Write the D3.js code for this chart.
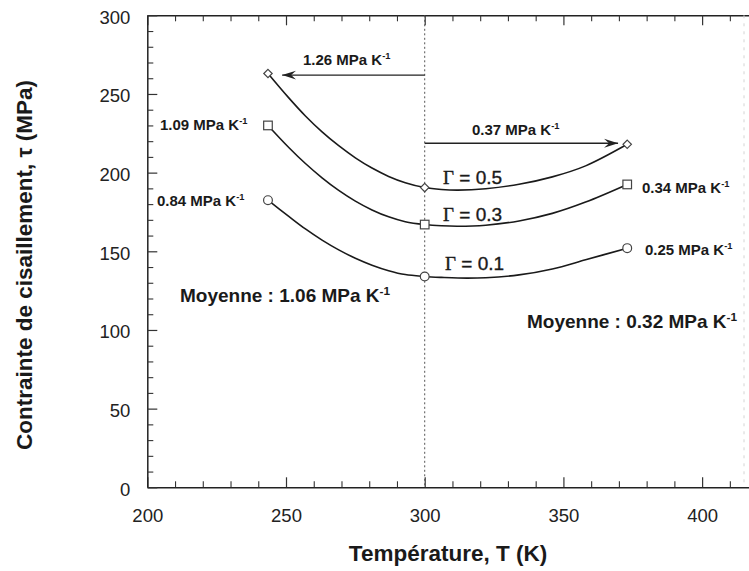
<!DOCTYPE html>
<html><head><meta charset="utf-8">
<script src="https://cdn.jsdelivr.net/npm/d3@7"></script>
<style>body{margin:0;background:#fff}svg{display:block}</style>
</head><body>
<script>
// ---- data ----
const temps = [243.5, 300, 373];
const tau05 = [263, 190.5, 218];
const tau03 = [230, 167, 192.5];
const tau01 = [182.5, 134, 152];
// curve traces
const traceT  = [243.5, 251, 257, 263, 269, 275, 281, 287, 293, 300, 306, 312, 322, 334, 346, 358, 373];
const trace05 = [263, 247.5, 236.0, 225.9, 217.1, 209.4, 202.9, 197.6, 193.6, 190.5, 189.3, 188.9, 189.8, 192.6, 197.3, 204.3, 218];
const trace03 = [230, 216.0, 205.8, 196.7, 188.7, 181.9, 176.3, 171.9, 168.8, 167.0, 166.2, 165.9, 166.6, 169.3, 174.1, 181.3, 192.5];
const trace01 = [182.5, 172.2, 164.2, 157.1, 150.9, 145.6, 141.2, 137.7, 135.2, 134.0, 133.4, 133.0, 133.2, 135.0, 138.8, 144.6, 152];
const seriesNames = ["Γ = 0.5", "Γ = 0.3", "Γ = 0.1"];
const xTicks = [200, 250, 300, 350, 400];
const yTicks = [0, 50, 100, 150, 200, 250, 300];
const arrowLeft = {from: 300, to: 248.6, tau: 262, label: "1.26"};
const arrowRight = {from: 300, to: 369.7, tau: 218.7, label: "0.37"};

const W = 749, H = 571;
const svg = d3.select("body").append("svg").attr("width", W).attr("height", H);
const x = d3.scaleLinear().domain([200, 420]).range([147.3, 757.6]);
const y = d3.scaleLinear().domain([0, 300]).range([487.3, 15.3]);
const sans = "'Liberation Sans', Arial, Helvetica, sans-serif";

// minor ticks
const xMinor = d3.range(200, 421, 10).filter(v => v % 50 !== 0);
const yMinor = d3.range(0, 301, 10).filter(v => v % 50 !== 0);

function styleAxis(g) {
  g.select(".domain").attr("stroke", "#222").attr("stroke-width", 1.5);
  g.selectAll(".tick line").attr("stroke", "#333").attr("stroke-width", 1.2);
  g.selectAll("text").attr("font-family", sans).attr("font-size", 18.5).attr("fill", "#222");
}
function minorStyle(g) {
  g.select(".domain").remove();
  g.selectAll("line").attr("stroke", "#333").attr("stroke-width", 1.1);
}
// bottom
const gB = svg.append("g").attr("transform", `translate(0,${y(0)})`)
  .call(d3.axisBottom(x).tickValues(xTicks).tickSize(-10).tickPadding(22).tickSizeOuter(0));
styleAxis(gB);
svg.append("g").attr("transform", `translate(0,${y(0)})`)
  .call(d3.axisBottom(x).tickValues(xMinor).tickSize(-6).tickFormat("").tickSizeOuter(0)).call(minorStyle);
// top
const gT = svg.append("g").attr("transform", `translate(0,${y(300)})`)
  .call(d3.axisTop(x).tickValues(xTicks).tickSize(-10).tickFormat("").tickSizeOuter(0));
styleAxis(gT);
svg.append("g").attr("transform", `translate(0,${y(300)})`)
  .call(d3.axisTop(x).tickValues(xMinor).tickSize(-6).tickFormat("").tickSizeOuter(0)).call(minorStyle);
// left
const gL = svg.append("g").attr("transform", `translate(${x(200)},0)`)
  .call(d3.axisLeft(y).tickValues(yTicks).tickSize(-10).tickPadding(17).tickSizeOuter(0));
styleAxis(gL);
gL.selectAll("text").attr("dy", "0.42em");
svg.append("g").attr("transform", `translate(${x(200)},0)`)
  .call(d3.axisLeft(y).tickValues(yMinor).tickSize(-6).tickFormat("").tickSizeOuter(0)).call(minorStyle);
// faint right edge (scan)
svg.append("line").attr("x1", 744).attr("x2", 744).attr("y1", y(300)).attr("y2", y(0))
  .attr("stroke", "#d4d4d4").attr("stroke-dasharray", "3,5").attr("stroke-width", 1);

// vertical dotted line at 300 K
svg.append("line").attr("x1", x(300)).attr("x2", x(300)).attr("y1", y(300)).attr("y2", y(0))
  .attr("stroke", "#555").attr("stroke-width", 1).attr("stroke-dasharray", "2,2.5");

// curves
const line = d3.line().x(d => x(d[0])).y(d => y(d[1])).curve(d3.curveCatmullRom.alpha(0.5));
[trace05, trace03, trace01].forEach(tr => {
  svg.append("path").datum(traceT.map((t, i) => [t, tr[i]]))
    .attr("d", line).attr("fill", "none").attr("stroke", "#1a1a1a").attr("stroke-width", 1.6);
});

// markers
const mk = {stroke: "#444", sw: 1.2};
temps.forEach((t, i) => {
  const cx = x(t);
  svg.append("path").attr("d", `M${cx},${y(tau05[i]) - 4.2}l4.2,4.2l-4.2,4.2l-4.2,-4.2z`)
    .attr("fill", "#fff").attr("stroke", mk.stroke).attr("stroke-width", mk.sw);
  svg.append("rect").attr("x", cx - 4.3).attr("y", y(tau03[i]) - 4.3).attr("width", 8.6).attr("height", 8.6)
    .attr("fill", "#fff").attr("stroke", mk.stroke).attr("stroke-width", mk.sw);
  svg.append("circle").attr("cx", cx).attr("cy", y(tau01[i])).attr("r", 4.4)
    .attr("fill", "#fff").attr("stroke", mk.stroke).attr("stroke-width", mk.sw);
});

// arrows
const defs = svg.append("defs");
defs.append("marker").attr("id", "ah").attr("viewBox", "-14 -6 16 12")
  .attr("refX", 0).attr("refY", 0).attr("markerWidth", 16).attr("markerHeight", 12)
  .attr("markerUnits", "userSpaceOnUse").attr("orient", "auto")
  .append("path").attr("d", "M0,0 L-14,-4.5 L-9,0 L-14,4.5 Z").attr("fill", "#222");
[arrowLeft, arrowRight].forEach(a => {
  svg.append("line").attr("x1", x(a.from)).attr("x2", x(a.to)).attr("y1", y(a.tau)).attr("y2", y(a.tau))
    .attr("stroke", "#222").attr("stroke-width", 1.4).attr("marker-end", "url(#ah)");
});

// unit label helper
function unitLabel(xp, yp, num, size) {
  const t = svg.append("text").attr("x", xp).attr("y", yp).attr("font-family", sans)
    .attr("font-weight", "bold").attr("font-size", size).attr("fill", "#1a1a1a");
  t.append("tspan").text(num + " MPa K");
  t.append("tspan").attr("dy", -size * 0.38).attr("font-size", size * 0.62).text("-1");
  return t;
}
unitLabel(303, 65, arrowLeft.label, 15);
unitLabel(472, 135, arrowRight.label, 15);
unitLabel(160, 130, "1.09", 15);
unitLabel(157, 206, "0.84", 15);
unitLabel(642, 193, "0.34", 15);
unitLabel(645, 255, "0.25", 15);
unitLabel(180, 302, "Moyenne : 1.06", 19);
unitLabel(527, 328, "Moyenne : 0.32", 19);

// gamma labels
const gPos = [[443, 184], [443, 221], [445, 270]];
seriesNames.forEach((s, i) => {
  const t = svg.append("text").attr("x", gPos[i][0]).attr("y", gPos[i][1])
    .attr("font-size", 19).attr("fill", "#1a1a1a").attr("stroke", "#1a1a1a").attr("stroke-width", 0.35);
  t.append("tspan").attr("font-family", "'Liberation Serif', 'Times New Roman', serif").text(s.slice(0, 1));
  t.append("tspan").attr("font-family", sans).text(s.slice(1));
});

// axis titles
svg.append("text").attr("x", 448).attr("y", 561).attr("text-anchor", "middle")
  .attr("font-family", sans).attr("font-weight", "bold").attr("font-size", 22.5).attr("fill", "#1a1a1a")
  .text("Température, T (K)");
svg.append("text").attr("transform", "translate(32,265) rotate(-90)").attr("text-anchor", "middle")
  .attr("font-family", sans).attr("font-weight", "bold").attr("font-size", 22.5).attr("fill", "#1a1a1a")
  .text("Contrainte de cisaillement, τ (MPa)");
</script>
</body></html>
